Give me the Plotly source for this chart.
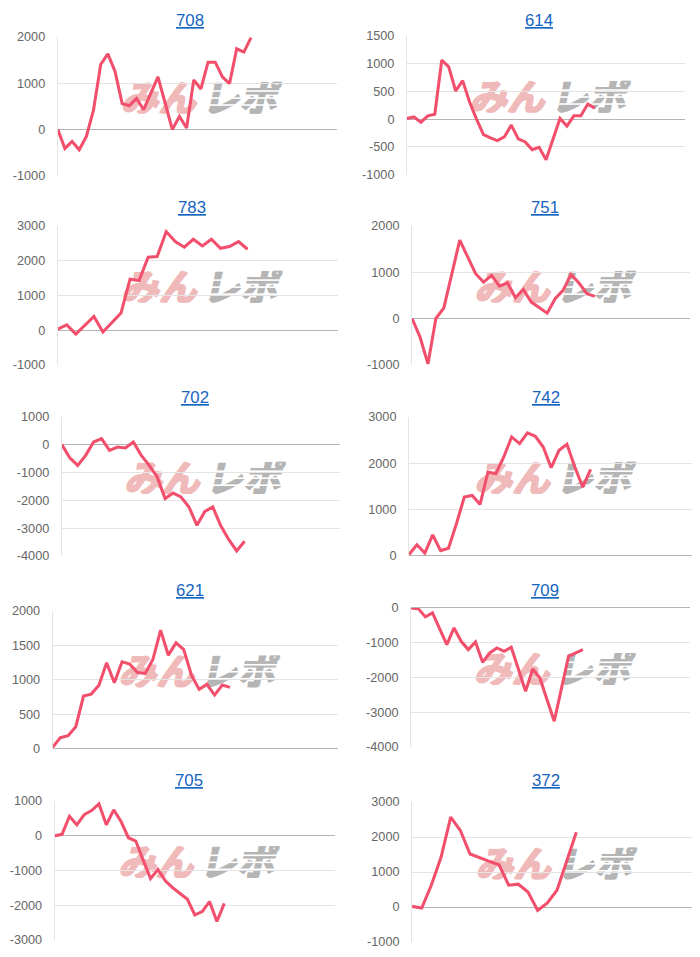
import base64
import plotly.graph_objects as go

# ---------------- data ----------------
titles = ["708", "614", "783", "751", "702", "742", "621", "709", "705", "372"]

s708 = [0, -410, -260, -440, -150, 420, 1400, 1630, 1250, 556, 512, 670, 425, 790, 1135, 570,
        0, 280, 30, 1065, 873, 1450, 1450, 1133, 990, 1740, 1668, 1980]
s614 = [10, 40, -55, 60, 90, 1060, 940, 506, 693, 307, 0, -277, -337, -385, -320, -108, -355,
        -410, -548, -506, -729, -337, 12, -126, 60, 60, 271, 199]
s783 = [30, 150, -115, 125, 390, -57, 220, 490, 1464, 1426, 2096, 2115, 2833, 2545, 2383, 2612,
        2421, 2612, 2354, 2402, 2545, 2325]
s751 = [0, -400, -980, 0, 230, 960, 1690, 1327, 966, 786, 930, 700, 771, 447, 627, 353, 231,
        115, 425, 606, 952, 764, 534, 476]
s702 = [0, -470, -745, -385, 95, 215, -205, -85, -120, 95, -385, -745, -1160, -1940, -1740,
        -1880, -2240, -2900, -2400, -2240, -2920, -3410, -3820, -3470]
s742 = [30, 240, 60, 455, 115, 165, 690, 1270, 1305, 1110, 1810, 1774, 2135, 2567, 2422, 2653,
        2581, 2350, 1903, 2278, 2408, 1918, 1485, 1867]
s621 = [24, 164, 193, 323, 766, 795, 925, 1248, 959, 1263, 1229, 1108, 1094, 1296, 1720, 1359,
        1537, 1441, 1070, 863, 935, 781, 925, 892]
s709 = [0, -20, -259, -144, -600, -1055, -575, -959, -1199, -978, -1564, -1295, -1151, -1247,
        -1132, -1760, -2398, -1755, -2014, -2640, -3261, -2330, -1390, -1295, -1200]
s705 = [0, 40, 560, 315, 610, 725, 915, 315, 745, 410, -57, -152, -705, -1229, -971, -1295,
        -1495, -1676, -1829, -2276, -2181, -1895, -2467, -1943]
s372 = [20, -30, 630, 1420, 2570, 2186, 1515, 1400, 1304, 1208, 623, 652, 431, -96, 115, 479,
        1275, 2138]
series = [s708, s614, s783, s751, s702, s742, s621, s709, s705, s372]

# number of slots on each category x axis
x_slots = [40, 41, 32, 36, 36, 37, 38, 40, 39, 30]

# y tick values per panel
y_ticks = [
    [-1000, 0, 1000, 2000],
    [-1000, -500, 0, 500, 1000, 1500],
    [-1000, 0, 1000, 2000, 3000],
    [-1000, 0, 1000, 2000],
    [-4000, -3000, -2000, -1000, 0, 1000],
    [0, 1000, 2000, 3000],
    [0, 500, 1000, 1500, 2000],
    [-4000, -3000, -2000, -1000, 0],
    [-3000, -2000, -1000, 0, 1000],
    [-1000, 0, 1000, 2000, 3000],
]

# ---------------- layout geometry ----------------
W, H = 700, 957
# page placement of the figure as observed in the browser photo
OX, OY, S = 8.0, 15.3, 0.985


def px(sx):
    return (sx - OX) / S / W


def py(sy):
    return 1 - (sy - OY) / S / H


boxes = [  # target screen box: x0, x1, y0(top), y1(bottom)
    (57, 332, 37, 176), (401, 675, 36, 175),
    (57, 333, 226, 365), (406, 680, 226, 365),
    (61, 335, 417, 556), (403, 683, 417, 556),
    (52, 333, 611, 749), (405, 680, 608, 747),
    (54, 330, 801, 940), (406, 682, 802, 942),
]
title_pos = [(187, 21), (531, 21), (189, 208), (537, 208), (192, 398), (538, 398),
             (187, 591), (537, 591), (186, 781), (538, 781)]

LINE = "#f24f6d"
GRID = "#e4e4e4"
ZERO = "#b5b5b5"
TICK = "#666666"
FONT = "Arial, Liberation Sans, sans-serif"

# watermark svg (logo)
LW, LH = 174, 32
svg = (
    f"<svg xmlns='http://www.w3.org/2000/svg' width='{LW*2}' height='{LH*2}' "
    f"viewBox='0 0 {LW} {LH}' preserveAspectRatio='none'>"
    "<g transform='translate(7,0) skewX(-12)'>"
    "<text x='0' y='30' font-family='Noto Sans CJK JP' font-weight='bold' font-size='37' "
    "fill='#f0baba' stroke='#f0baba' stroke-width='2.2' stroke-linejoin='round'>みん</text>"
    "<text x='80' y='30' font-family='Noto Sans CJK JP' font-weight='bold' font-size='37' "
    "fill='#b5b5b5' stroke='#b5b5b5' stroke-width='2' stroke-linejoin='round'>レポ</text>"
    "</g>"
    f"<rect x='84' y='8.5' width='{LW}' height='1.6' fill='white'/>"
    f"<rect x='84' y='15.5' width='{LW}' height='1.6' fill='white'/>"
    f"<rect x='84' y='22.5' width='{LW}' height='1.6' fill='white'/>"
    "</svg>"
)
svg_uri = "data:image/svg+xml;base64," + base64.b64encode(svg.encode("utf-8")).decode()

fig = go.Figure()
layout = dict(
    width=W, height=H,
    margin=dict(l=0, r=0, t=0, b=0),
    paper_bgcolor="white",
    plot_bgcolor="rgba(0,0,0,0)",
    showlegend=False,
    font=dict(family=FONT, color=TICK, size=12.7),
    annotations=[],
    images=[],
)

for i, (ys, title) in enumerate(zip(series, titles)):
    n = i + 1
    xa = "xaxis" if n == 1 else f"xaxis{n}"
    ya = "yaxis" if n == 1 else f"yaxis{n}"
    xr = "x" if n == 1 else f"x{n}"
    yr = "y" if n == 1 else f"y{n}"
    x0, x1, y0, y1 = boxes[i]
    ticks = y_ticks[i]
    fig.add_trace(go.Scatter(
        x=list(range(len(ys))), y=ys, mode="lines",
        line=dict(color=LINE, width=3.05), xaxis=xr, yaxis=yr, hoverinfo="skip",
    ))
    layout[xa] = dict(
        domain=[px(x0), px(x1)], range=[0, x_slots[i] - 1],
        showgrid=False, zeroline=False, showline=False, showticklabels=False,
        ticks="", anchor=yr, fixedrange=True,
    )
    layout[ya] = dict(
        domain=[py(y1), py(y0)], range=[ticks[0], ticks[-1]],
        tickvals=ticks, ticktext=[str(t) for t in ticks],
        showgrid=True, gridcolor=GRID, gridwidth=1,
        zeroline=True, zerolinecolor=ZERO, zerolinewidth=1,
        showline=True, linecolor=GRID, linewidth=1,
        ticks="outside", ticklen=9, tickcolor="rgba(0,0,0,0)",
        tickfont=dict(size=12.7, color=TICK), anchor=xr, fixedrange=True,
    )
    tx, ty = title_pos[i]
    layout["annotations"].append(dict(
        text=f"<u>{title}</u>", x=px(tx), y=py(ty), xref="paper", yref="paper",
        xanchor="center", yanchor="middle", showarrow=False,
        font=dict(size=16.8, color="#1565c0", family=FONT),
    ))
    pw, ph = x1 - x0, y1 - y0
    layout["images"].append(dict(
        source=svg_uri, xref=f"{xr} domain", yref=f"{yr} domain",
        x=0.5 + 11 / pw, y=0.5 + 8.5 / ph,
        sizex=LW / pw, sizey=LH / ph,
        xanchor="center", yanchor="middle", sizing="stretch", layer="below",
    ))

fig.update_layout(**layout)
fig.write_html("out.html")
